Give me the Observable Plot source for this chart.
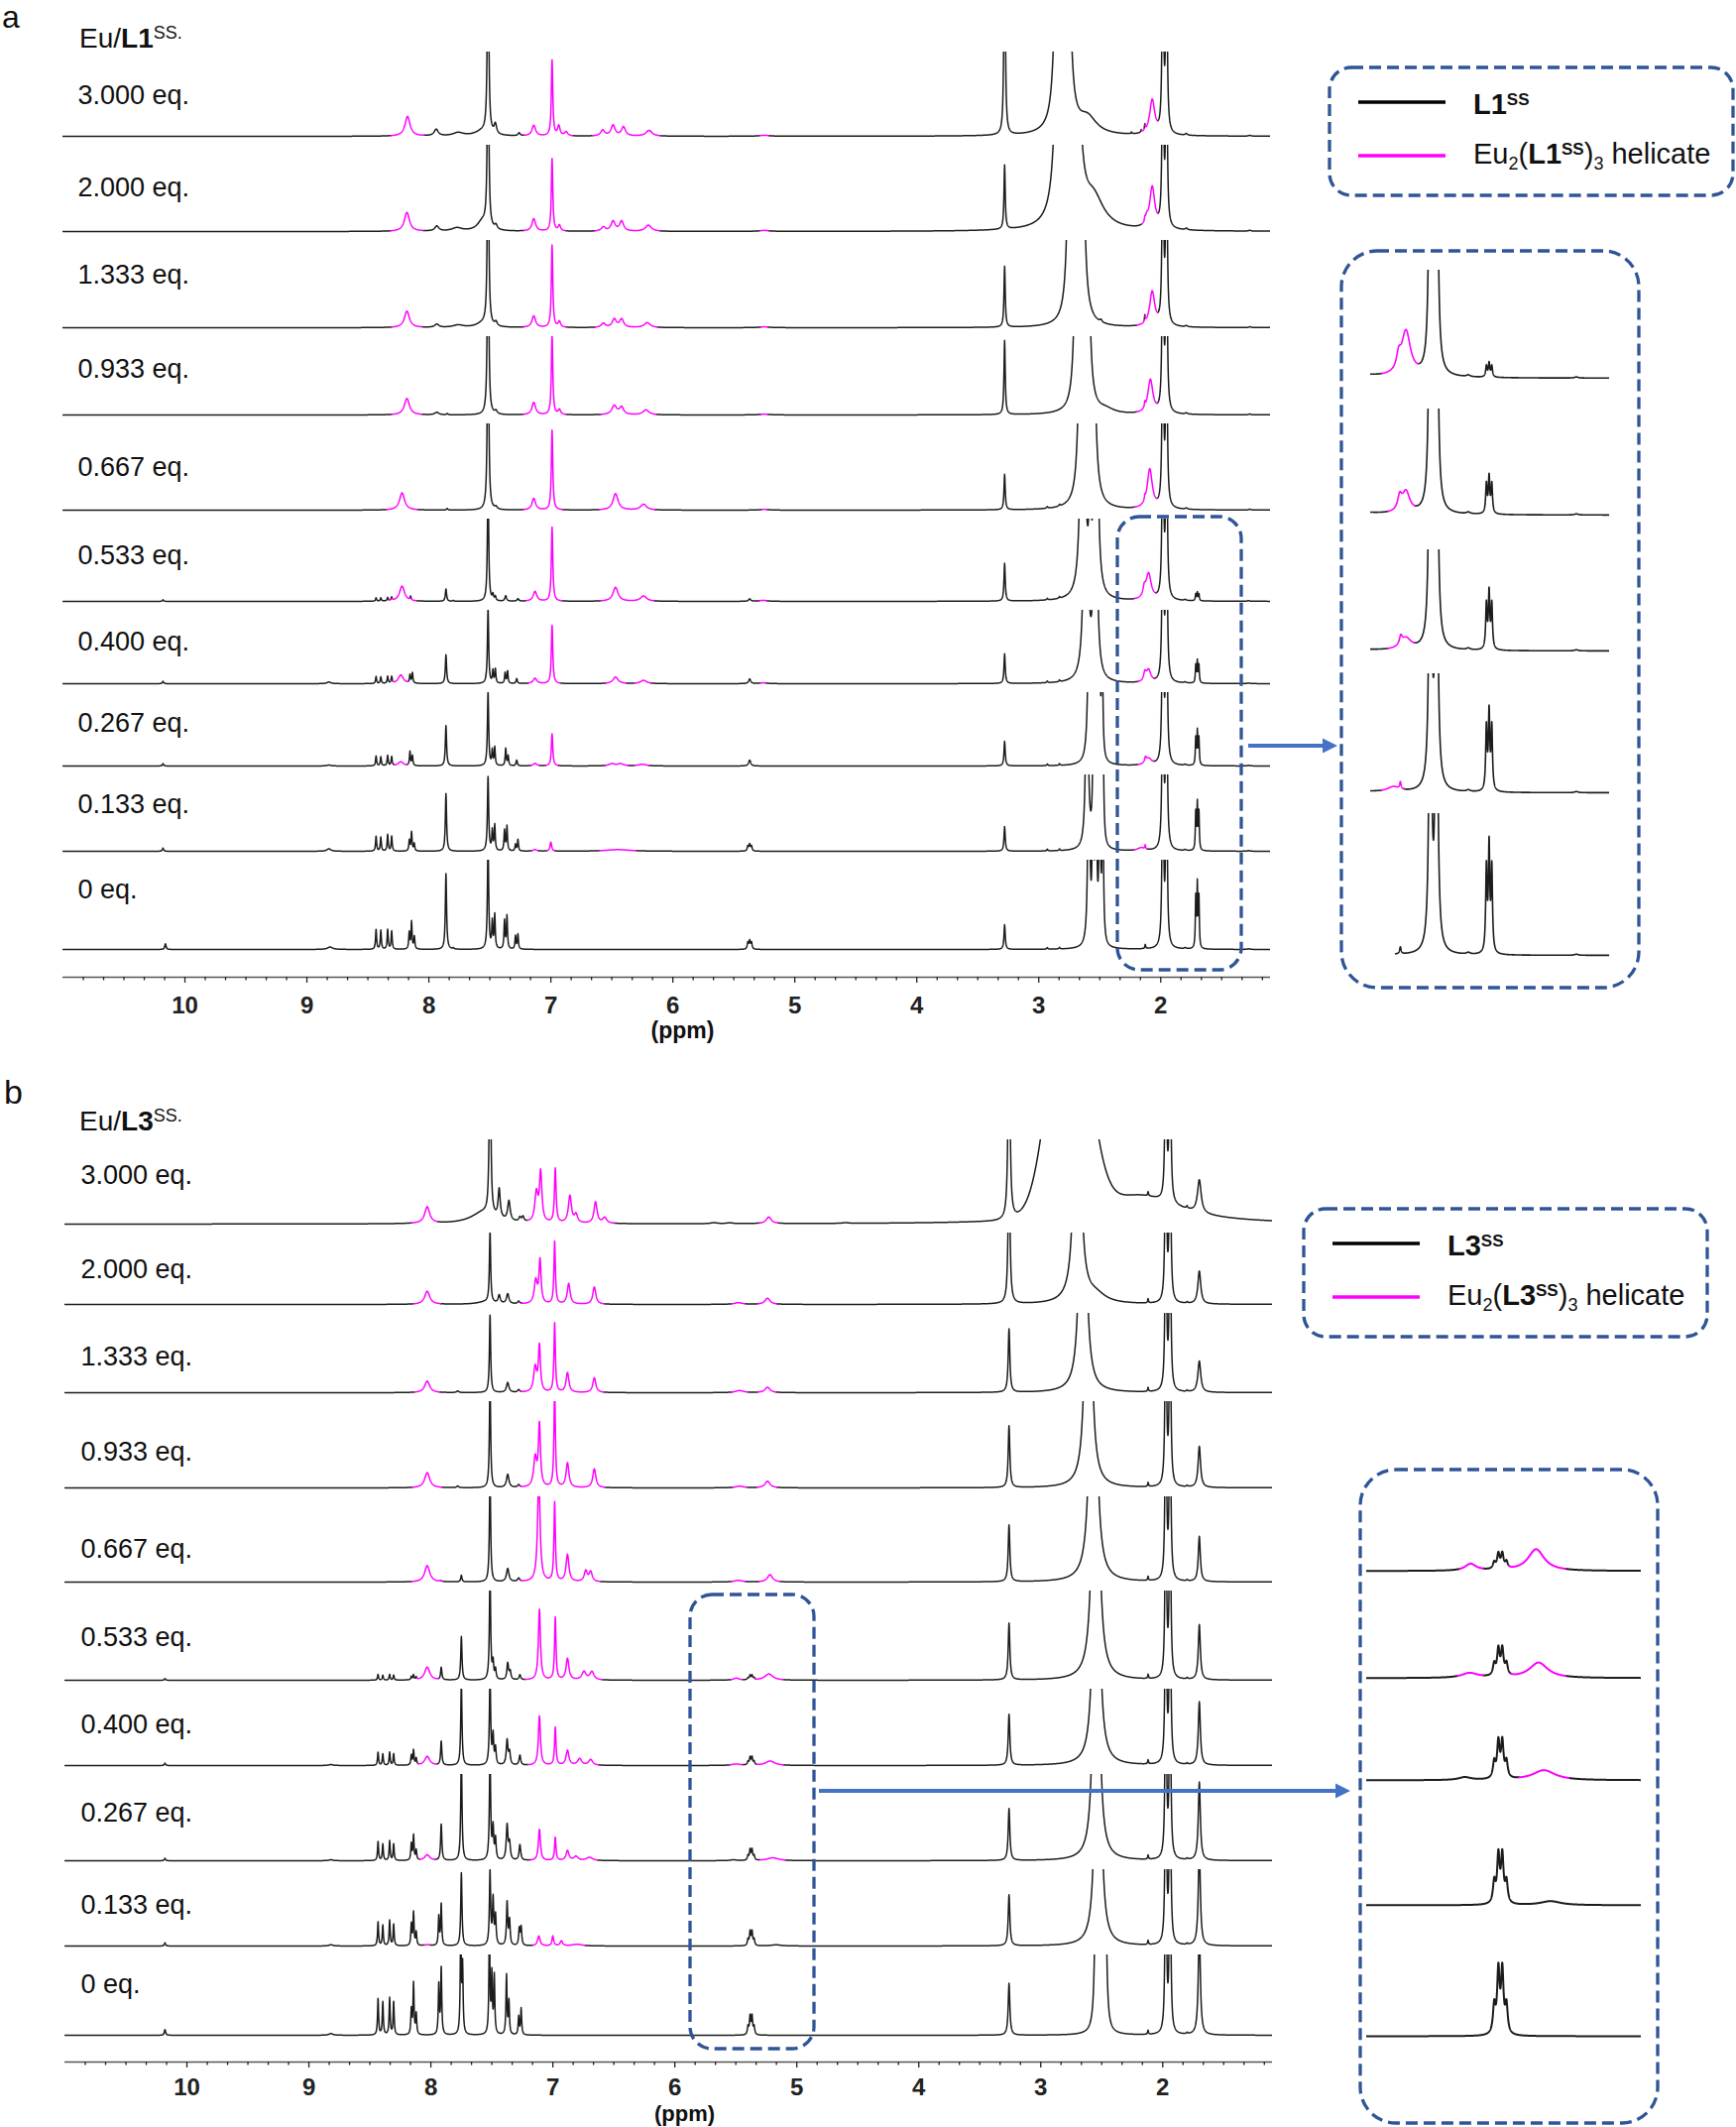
<!DOCTYPE html>
<html><head><meta charset="utf-8">
<script src="https://cdn.jsdelivr.net/npm/d3@7"></script>
<script src="https://cdn.jsdelivr.net/npm/@observablehq/plot@0.6"></script>
<style>
body{margin:0;background:#fff;}
#page{position:relative;width:1751px;height:2145px;overflow:hidden;background:#fff;}
</style></head><body><div id="page"></div>
<script>
// ---------- data ----------
const eqLabels = ["3.000 eq.","2.000 eq.","1.333 eq.","0.933 eq.","0.667 eq.","0.533 eq.","0.400 eq.","0.267 eq.","0.133 eq.","0 eq."];
const majorTicks = [10,9,8,7,6,5,4,3,2];
const minorTicks = d3.range(7, 66).filter(k => k % 6 !== 0).map(k => k / 6);
const ligandA = "L1", ligandB = "L3";
// peaks: [ppm, height (slot units), half-width (ppm), "k" ligand / "m" Eu helicate, optional "g" gaussian]
const a3000 = [[8.175,0.24,0.025,"m"],[7.94,0.08,0.02,"k"],[7.76,0.04,0.05,"k"],[7.56,0.06,0.07,"k"],[7.515,3,0.006,"k"],[7.455,0.12,0.012,"k"],[7.26,0.035,0.01,"k"],[7.14,0.13,0.018,"m"],[6.99,0.92,0.007,"m"],[6.935,0.12,0.012,"m"],[6.875,0.05,0.015,"m"],[6.575,0.07,0.02,"m"],[6.49,0.13,0.02,"m"],[6.405,0.11,0.02,"m"],[6.195,0.07,0.03,"m"],[5.25,0.012,0.05,"m"],[3.28,3,0.006,"k"],[2.845,4,0.02,"k"],[2.765,4,0.02,"k"],[2.6,0.2,0.09,"k"],[2.24,0.02,0.004,"k"],[2.16,0.03,0.004,"k"],[2.13,0.07,0.004,"k"],[2.07,0.42,0.025,"m"],[1.983,3,0.006,"k"],[1.953,3,0.006,"k"],[1.79,0.02,0.01,"k"],[1.27,0.01,0.01,"k"]];
const a2000 = [[8.18,0.23,0.025,"m"],[7.935,0.06,0.02,"k"],[7.77,0.04,0.05,"k"],[7.56,0.12,0.05,"k"],[7.515,3,0.006,"k"],[7.45,0.05,0.012,"k"],[7.14,0.15,0.018,"m"],[6.99,0.88,0.007,"m"],[6.93,0.07,0.012,"m"],[6.57,0.05,0.02,"m"],[6.49,0.12,0.02,"m"],[6.42,0.12,0.02,"m"],[6.20,0.075,0.03,"m"],[5.25,0.012,0.05,"m"],[3.28,0.78,0.006,"k"],[2.83,5,0.025,"k"],[2.70,5,0.025,"k"],[2.55,0.35,0.1,"k"],[2.13,0.05,0.004,"k"],[2.115,0.08,0.012,"m"],[2.07,0.5,0.025,"m"],[1.983,3,0.006,"k"],[1.953,3,0.006,"k"],[1.79,0.02,0.01,"k"],[1.27,0.01,0.01,"k"]];
const a1333 = [[8.18,0.2,0.025,"m"],[7.935,0.04,0.02,"k"],[7.76,0.03,0.05,"k"],[7.56,0.05,0.06,"k"],[7.515,3,0.006,"k"],[7.45,0.05,0.012,"k"],[7.14,0.14,0.018,"m"],[6.99,1.0,0.007,"m"],[6.93,0.07,0.012,"m"],[6.57,0.05,0.02,"m"],[6.48,0.1,0.02,"m"],[6.42,0.1,0.02,"m"],[6.21,0.06,0.03,"m"],[5.25,0.01,0.05,"m"],[3.28,0.74,0.006,"k"],[2.74,6,0.015,"k"],[2.65,6,0.015,"k"],[2.49,0.03,0.01,"k"],[2.13,0.08,0.004,"k"],[2.07,0.42,0.025,"m"],[1.983,3,0.006,"k"],[1.953,3,0.006,"k"],[1.79,0.015,0.01,"k"],[1.27,0.01,0.01,"k"]];
const a0933 = [[8.18,0.2,0.025,"m"],[7.935,0.03,0.02,"k"],[7.85,0.015,0.006,"k"],[7.515,3,0.006,"k"],[7.45,0.04,0.012,"k"],[7.14,0.15,0.018,"m"],[6.99,0.97,0.007,"m"],[6.93,0.06,0.012,"m"],[6.48,0.11,0.025,"m"],[6.42,0.09,0.02,"m"],[6.22,0.06,0.03,"m"],[5.25,0.01,0.05,"m"],[3.28,0.9,0.006,"k"],[2.685,6,0.013,"k"],[2.605,6,0.013,"k"],[2.45,0.05,0.08,"k"],[2.13,0.06,0.004,"k"],[2.085,0.41,0.025,"m"],[1.983,3,0.006,"k"],[1.953,3,0.006,"k"],[1.79,0.015,0.01,"k"],[1.27,0.01,0.01,"k"]];
const a0667 = [[8.22,0.21,0.025,"m"],[7.85,0.02,0.006,"k"],[7.515,3,0.006,"k"],[7.45,0.03,0.012,"k"],[7.14,0.14,0.018,"m"],[6.99,0.97,0.007,"m"],[6.47,0.2,0.025,"m"],[6.24,0.07,0.03,"m"],[5.25,0.01,0.04,"m"],[3.28,0.43,0.006,"k"],[2.93,0.02,0.006,"k"],[2.83,0.02,0.006,"k"],[2.65,6,0.014,"k"],[2.56,6,0.014,"k"],[2.13,0.05,0.004,"k"],[2.09,0.48,0.025,"m"],[1.983,3,0.006,"k"],[1.953,3,0.006,"k"],[1.79,0.015,0.01,"k"],[1.27,0.01,0.01,"k"]];
const a0533 = [[10.18,0.02,0.006,"k"],[8.433,0.04,0.005,"k"],[8.394,0.04,0.005,"k"],[8.338,0.04,0.005,"k"],[8.305,0.04,0.005,"k"],[8.22,0.185,0.025,"m"],[8.15,0.045,0.005,"k"],[7.86,0.15,0.006,"k"],[7.80,0.01,0.006,"k"],[7.515,1.5,0.006,"k"],[7.475,0.07,0.006,"k"],[7.455,0.05,0.006,"k"],[7.37,0.065,0.008,"k"],[7.27,0.03,0.008,"k"],[7.13,0.12,0.018,"m"],[6.99,0.9,0.007,"m"],[6.47,0.17,0.025,"m"],[6.24,0.065,0.03,"m"],[5.37,0.03,0.01,"k"],[5.26,0.012,0.04,"m"],[3.28,0.46,0.006,"k"],[2.93,0.02,0.005,"k"],[2.83,0.02,0.005,"k"],[2.64,5,0.015,"k"],[2.58,2,0.006,"k"],[2.53,5,0.012,"k"],[2.135,0.1,0.012,"m"],[2.10,0.32,0.026,"m"],[1.983,3,0.006,"k"],[1.953,3,0.006,"k"],[1.80,0.012,0.01,"k"],[1.713,0.08,0.004,"k"],[1.70,0.1,0.004,"k"],[1.687,0.08,0.004,"k"],[1.28,0.008,0.01,"k"]];
const a0400 = [[10.18,0.03,0.006,"k"],[8.82,0.02,0.02,"k"],[8.433,0.085,0.005,"k"],[8.394,0.08,0.005,"k"],[8.338,0.085,0.005,"k"],[8.305,0.08,0.005,"k"],[8.23,0.105,0.025,"m"],[8.155,0.1,0.005,"k"],[8.135,0.125,0.005,"k"],[7.86,0.35,0.006,"k"],[7.515,0.9,0.006,"k"],[7.475,0.15,0.005,"k"],[7.455,0.17,0.005,"k"],[7.375,0.13,0.005,"k"],[7.355,0.15,0.005,"k"],[7.28,0.06,0.006,"k"],[7.13,0.065,0.018,"m"],[6.99,0.71,0.007,"m"],[6.47,0.08,0.025,"m"],[6.24,0.04,0.03,"m"],[5.37,0.056,0.01,"k"],[5.26,0.01,0.04,"m"],[3.28,0.36,0.006,"k"],[2.93,0.02,0.005,"k"],[2.83,0.02,0.005,"k"],[2.615,4,0.015,"k"],[2.535,4,0.012,"k"],[2.13,0.1,0.012,"m"],[2.10,0.15,0.022,"m"],[1.983,3,0.006,"k"],[1.953,3,0.006,"k"],[1.80,0.012,0.01,"k"],[1.713,0.21,0.004,"k"],[1.70,0.26,0.004,"k"],[1.687,0.21,0.004,"k"],[1.28,0.008,0.01,"k"]];
const a0267 = [[10.18,0.03,0.006,"k"],[8.82,0.012,0.02,"k"],[8.433,0.12,0.005,"k"],[8.394,0.11,0.005,"k"],[8.338,0.125,0.005,"k"],[8.305,0.11,0.005,"k"],[8.23,0.05,0.025,"m"],[8.155,0.17,0.005,"k"],[8.135,0.12,0.005,"k"],[7.86,0.49,0.006,"k"],[7.515,0.89,0.006,"k"],[7.48,0.18,0.005,"k"],[7.46,0.22,0.005,"k"],[7.37,0.21,0.005,"k"],[7.35,0.12,0.005,"k"],[7.28,0.07,0.006,"k"],[7.13,0.03,0.018,"m"],[6.99,0.39,0.007,"m"],[6.50,0.025,0.03,"m"],[6.43,0.025,0.03,"m"],[6.25,0.02,0.04,"m"],[5.37,0.072,0.01,"k"],[3.28,0.30,0.006,"k"],[2.93,0.02,0.005,"k"],[2.83,0.02,0.005,"k"],[2.585,3,0.01,"k"],[2.555,2.5,0.006,"k"],[2.53,2.5,0.006,"k"],[2.505,2.5,0.006,"k"],[2.48,1.5,0.006,"k"],[2.125,0.06,0.008,"m"],[2.10,0.08,0.03,"m"],[1.983,3,0.006,"k"],[1.953,3,0.006,"k"],[1.80,0.012,0.01,"k"],[1.713,0.32,0.004,"k"],[1.70,0.4,0.004,"k"],[1.687,0.32,0.004,"k"],[1.28,0.008,0.01,"k"]];
const a0133 = [[10.18,0.04,0.006,"k"],[8.82,0.03,0.02,"k"],[8.433,0.18,0.005,"k"],[8.394,0.17,0.005,"k"],[8.338,0.2,0.005,"k"],[8.305,0.18,0.005,"k"],[8.16,0.13,0.005,"k"],[8.142,0.23,0.005,"k"],[8.12,0.09,0.005,"k"],[7.86,0.70,0.006,"k"],[7.515,0.9,0.006,"k"],[7.48,0.24,0.005,"k"],[7.46,0.31,0.005,"k"],[7.38,0.25,0.005,"k"],[7.36,0.3,0.005,"k"],[7.29,0.08,0.005,"k"],[7.27,0.14,0.005,"k"],[7.13,0.02,0.018,"m"],[7.0,0.11,0.008,"m"],[6.45,0.02,0.12,"m"],[5.385,0.06,0.006,"k"],[5.37,0.08,0.006,"k"],[5.355,0.06,0.006,"k"],[3.28,0.30,0.006,"k"],[2.93,0.02,0.005,"k"],[2.83,0.02,0.005,"k"],[2.605,3,0.01,"k"],[2.55,2.5,0.006,"k"],[2.525,2.5,0.006,"k"],[2.50,2.5,0.006,"k"],[2.475,2,0.006,"k"],[2.16,0.035,0.035,"m"],[2.127,0.05,0.004,"m"],[1.983,3,0.006,"k"],[1.953,3,0.006,"k"],[1.80,0.012,0.01,"k"],[1.713,0.45,0.004,"k"],[1.70,0.55,0.004,"k"],[1.687,0.45,0.004,"k"],[1.28,0.008,0.01,"k"]];
const a0000 = [[10.16,0.07,0.006,"k"],[8.81,0.03,0.025,"k"],[8.433,0.24,0.005,"k"],[8.394,0.23,0.005,"k"],[8.338,0.24,0.005,"k"],[8.305,0.22,0.005,"k"],[8.161,0.2,0.005,"k"],[8.142,0.33,0.005,"k"],[8.119,0.15,0.005,"k"],[7.86,0.92,0.006,"k"],[7.80,0.015,0.006,"k"],[7.515,1.3,0.006,"k"],[7.48,0.32,0.005,"k"],[7.46,0.41,0.005,"k"],[7.38,0.34,0.005,"k"],[7.36,0.40,0.005,"k"],[7.29,0.16,0.005,"k"],[7.27,0.18,0.005,"k"],[5.385,0.08,0.006,"k"],[5.37,0.1,0.006,"k"],[5.355,0.08,0.006,"k"],[3.28,0.30,0.006,"k"],[2.93,0.02,0.005,"k"],[2.83,0.02,0.005,"k"],[2.59,3,0.008,"k"],[2.555,2.5,0.006,"k"],[2.53,2.5,0.006,"k"],[2.50,2.5,0.006,"k"],[2.475,2,0.006,"k"],[2.127,0.05,0.004,"k"],[1.983,3,0.006,"k"],[1.953,3,0.006,"k"],[1.80,0.012,0.01,"k"],[1.713,0.6,0.004,"k"],[1.70,0.75,0.004,"k"],[1.687,0.6,0.004,"k"],[1.28,0.008,0.01,"k"]];

const b3000 = [[8.03,0.2,0.025,"m"],[7.57,0.14,0.12,"k"],[7.515,3,0.006,"k"],[7.44,0.35,0.01,"k"],[7.36,0.24,0.012,"k"],[7.27,0.05,0.01,"k"],[7.245,0.06,0.01,"k"],[7.135,0.35,0.015,"m"],[7.10,0.6,0.012,"m"],[6.98,0.66,0.008,"m"],[6.86,0.33,0.015,"m"],[6.81,0.1,0.015,"m"],[6.65,0.26,0.015,"m"],[6.575,0.07,0.02,"m"],[5.68,0.012,0.03,"k"],[5.55,0.01,0.03,"k"],[5.23,0.08,0.025,"m"],[4.6,0.008,0.03,"k"],[3.26,3,0.008,"k"],[2.77,3.2,0.15,"k","g"],[2.2,0.35,0.4,"k"],[2.12,0.05,0.004,"k"],[1.975,3,0.006,"k"],[1.94,3,0.006,"k"],[1.80,0.03,0.006,"k"],[1.70,0.4,0.018,"k"]];
const b2000 = [[8.03,0.16,0.025,"m"],[7.55,0.03,0.08,"k"],[7.515,0.86,0.006,"k"],[7.44,0.1,0.01,"k"],[7.37,0.12,0.012,"k"],[7.28,0.03,0.01,"k"],[7.14,0.28,0.015,"m"],[7.105,0.52,0.01,"m"],[6.985,0.76,0.007,"m"],[6.87,0.25,0.014,"m"],[6.66,0.21,0.015,"m"],[5.48,0.02,0.04,"m"],[5.24,0.075,0.025,"m"],[3.26,2,0.008,"k"],[2.70,6,0.02,"k"],[2.55,0.1,0.1,"k"],[2.12,0.05,0.004,"k"],[1.975,3,0.006,"k"],[1.94,3,0.006,"k"],[1.80,0.015,0.006,"k"],[1.70,0.4,0.014,"k"]];
const b1333 = [[8.03,0.14,0.025,"m"],[7.78,0.02,0.01,"k"],[7.515,0.94,0.006,"k"],[7.37,0.12,0.012,"k"],[7.28,0.03,0.01,"k"],[7.145,0.3,0.015,"m"],[7.11,0.55,0.01,"m"],[6.985,0.84,0.007,"m"],[6.88,0.24,0.014,"m"],[6.66,0.18,0.015,"m"],[5.47,0.025,0.04,"m"],[5.24,0.065,0.025,"m"],[3.26,0.77,0.008,"k"],[2.655,6,0.02,"k"],[2.12,0.05,0.004,"k"],[1.975,3,0.006,"k"],[1.94,3,0.006,"k"],[1.80,0.015,0.006,"k"],[1.70,0.38,0.014,"k"]];
const b0933 = [[8.03,0.185,0.025,"m"],[7.78,0.02,0.01,"k"],[7.515,1.3,0.006,"k"],[7.37,0.16,0.012,"k"],[7.28,0.03,0.01,"k"],[7.145,0.35,0.015,"m"],[7.11,0.75,0.01,"m"],[6.985,1.2,0.007,"m"],[6.88,0.3,0.014,"m"],[6.66,0.23,0.015,"m"],[5.47,0.02,0.04,"m"],[5.24,0.08,0.025,"m"],[3.26,0.75,0.008,"k"],[2.61,6,0.02,"k"],[2.12,0.05,0.004,"k"],[1.975,3,0.006,"k"],[1.94,3,0.006,"k"],[1.80,0.015,0.006,"k"],[1.70,0.5,0.012,"k"]];
const b0667 = [[8.03,0.2,0.025,"m"],[7.92,0.01,0.01,"k"],[7.75,0.08,0.006,"k"],[7.515,1.3,0.006,"k"],[7.37,0.16,0.012,"k"],[7.28,0.04,0.01,"k"],[7.115,1.3,0.012,"m"],[6.985,0.96,0.007,"m"],[6.88,0.33,0.014,"m"],[6.73,0.13,0.015,"m"],[6.69,0.12,0.015,"m"],[5.48,0.02,0.04,"m"],[5.22,0.09,0.025,"m"],[3.26,0.69,0.008,"k"],[2.57,6,0.022,"k"],[2.12,0.05,0.004,"k"],[1.975,3,0.006,"k"],[1.94,3,0.006,"k"],[1.80,0.015,0.006,"k"],[1.70,0.55,0.01,"k"]];
const b0533 = [[10.18,0.02,0.006,"k"],[8.433,0.07,0.005,"k"],[8.394,0.06,0.005,"k"],[8.338,0.07,0.005,"k"],[8.305,0.06,0.005,"k"],[8.16,0.04,0.005,"k"],[8.142,0.06,0.005,"k"],[8.12,0.03,0.005,"k"],[8.03,0.16,0.025,"m"],[7.915,0.15,0.006,"k"],[7.75,0.53,0.006,"k"],[7.515,1.3,0.006,"k"],[7.49,0.2,0.006,"k"],[7.47,0.12,0.006,"k"],[7.37,0.2,0.008,"k"],[7.35,0.1,0.008,"k"],[7.27,0.06,0.008,"k"],[7.11,0.86,0.01,"m"],[6.98,0.76,0.007,"m"],[6.88,0.26,0.014,"m"],[6.745,0.1,0.02,"m"],[6.68,0.1,0.02,"m"],[5.496,0.024,0.027,"m"],[5.40,0.023,0.006,"k"],[5.383,0.052,0.006,"k"],[5.367,0.052,0.006,"k"],[5.35,0.023,0.006,"k"],[5.229,0.076,0.04,"m"],[3.26,0.69,0.008,"k"],[2.55,6,0.022,"k"],[2.12,0.05,0.004,"k"],[1.975,3,0.006,"k"],[1.94,3,0.006,"k"],[1.80,0.015,0.006,"k"],[1.70,0.67,0.01,"k"]];
const b0400 = [[10.18,0.03,0.006,"k"],[8.82,0.012,0.02,"k"],[8.433,0.16,0.005,"k"],[8.394,0.14,0.005,"k"],[8.338,0.16,0.005,"k"],[8.305,0.14,0.005,"k"],[8.16,0.12,0.005,"k"],[8.142,0.18,0.005,"k"],[8.12,0.08,0.005,"k"],[8.03,0.11,0.025,"m"],[7.915,0.29,0.006,"k"],[7.75,1.0,0.006,"k"],[7.515,1.1,0.006,"k"],[7.49,0.35,0.006,"k"],[7.47,0.2,0.006,"k"],[7.375,0.3,0.008,"k"],[7.355,0.15,0.008,"k"],[7.27,0.12,0.008,"k"],[7.11,0.6,0.01,"m"],[6.98,0.46,0.007,"m"],[6.88,0.18,0.014,"m"],[6.78,0.08,0.02,"m"],[6.69,0.07,0.02,"m"],[5.50,0.017,0.04,"m"],[5.40,0.041,0.006,"k"],[5.383,0.092,0.006,"k"],[5.367,0.092,0.006,"k"],[5.35,0.041,0.006,"k"],[5.219,0.054,0.045,"m"],[3.26,0.62,0.008,"k"],[2.545,6,0.02,"k"],[2.12,0.05,0.004,"k"],[1.975,3,0.006,"k"],[1.94,3,0.006,"k"],[1.80,0.015,0.006,"k"],[1.70,0.77,0.01,"k"]];
const b0267 = [[10.18,0.03,0.006,"k"],[8.82,0.012,0.02,"k"],[8.433,0.23,0.005,"k"],[8.394,0.2,0.005,"k"],[8.338,0.24,0.005,"k"],[8.305,0.2,0.005,"k"],[8.16,0.2,0.005,"k"],[8.142,0.3,0.005,"k"],[8.12,0.12,0.005,"k"],[8.03,0.07,0.025,"m"],[7.915,0.44,0.006,"k"],[7.75,1.3,0.006,"k"],[7.515,1.3,0.006,"k"],[7.49,0.38,0.006,"k"],[7.47,0.25,0.006,"k"],[7.375,0.42,0.008,"k"],[7.355,0.2,0.008,"k"],[7.27,0.19,0.008,"k"],[7.11,0.38,0.01,"m"],[6.98,0.28,0.007,"m"],[6.88,0.12,0.014,"m"],[6.81,0.05,0.02,"m"],[6.70,0.04,0.03,"m"],[5.52,0.01,0.03,"k"],[5.40,0.056,0.006,"k"],[5.383,0.125,0.006,"k"],[5.367,0.125,0.006,"k"],[5.35,0.056,0.006,"k"],[5.197,0.035,0.055,"m"],[3.26,0.63,0.008,"k"],[2.545,7,0.018,"k"],[2.12,0.05,0.004,"k"],[1.975,3,0.006,"k"],[1.94,3,0.006,"k"],[1.80,0.015,0.006,"k"],[1.70,0.95,0.01,"k"]];
const b0133 = [[10.18,0.04,0.006,"k"],[8.82,0.015,0.02,"k"],[8.433,0.29,0.005,"k"],[8.394,0.25,0.005,"k"],[8.338,0.31,0.005,"k"],[8.305,0.26,0.005,"k"],[8.16,0.26,0.005,"k"],[8.142,0.4,0.005,"k"],[8.12,0.16,0.005,"k"],[8.03,0.012,0.03,"m"],[7.935,0.35,0.005,"k"],[7.915,0.5,0.005,"k"],[7.75,0.89,0.006,"k"],[7.515,0.89,0.006,"k"],[7.49,0.55,0.006,"k"],[7.47,0.35,0.006,"k"],[7.375,0.52,0.006,"k"],[7.355,0.3,0.006,"k"],[7.275,0.2,0.006,"k"],[7.26,0.22,0.006,"k"],[7.115,0.12,0.012,"m"],[7.0,0.12,0.008,"m"],[6.93,0.06,0.012,"m"],[6.8,0.02,0.05,"m"],[5.40,0.074,0.006,"k"],[5.383,0.165,0.006,"k"],[5.367,0.165,0.006,"k"],[5.35,0.074,0.006,"k"],[5.17,0.014,0.05,"k"],[3.26,0.62,0.008,"k"],[2.53,7,0.017,"k"],[2.12,0.05,0.004,"k"],[1.975,3,0.006,"k"],[1.94,3,0.006,"k"],[1.80,0.015,0.006,"k"],[1.70,1.2,0.01,"k"]];
const b0000 = [[10.18,0.07,0.006,"k"],[8.82,0.02,0.02,"k"],[8.433,0.44,0.005,"k"],[8.394,0.4,0.005,"k"],[8.338,0.45,0.005,"k"],[8.305,0.4,0.005,"k"],[8.16,0.3,0.005,"k"],[8.142,0.62,0.005,"k"],[8.12,0.25,0.005,"k"],[7.935,0.6,0.005,"k"],[7.915,0.8,0.005,"k"],[7.755,1.3,0.005,"k"],[7.74,0.8,0.005,"k"],[7.52,1.3,0.005,"k"],[7.50,0.7,0.005,"k"],[7.48,0.7,0.005,"k"],[7.38,0.72,0.005,"k"],[7.36,0.4,0.005,"k"],[7.28,0.22,0.005,"k"],[7.26,0.32,0.005,"k"],[5.40,0.097,0.006,"k"],[5.383,0.217,0.006,"k"],[5.367,0.217,0.006,"k"],[5.35,0.097,0.006,"k"],[3.26,0.63,0.008,"k"],[2.545,3,0.01,"k"],[2.51,3,0.006,"k"],[2.49,3,0.006,"k"],[2.47,2,0.01,"k"],[2.12,0.05,0.004,"k"],[1.975,3,0.006,"k"],[1.94,3,0.006,"k"],[1.80,0.015,0.006,"k"],[1.70,1.3,0.01,"k"]];

const spectraA = [a3000,a2000,a1333,a0933,a0667,a0533,a0400,a0267,a0133,a0000];
const spectraB = [b3000,b2000,b1333,b0933,b0667,b0533,b0400,b0267,b0133,b0000];
const insetRows = [5,6,7,8,9];               // spectra shown in the zoom insets
const insetDomainA = [2.27, 1.12], insetStartA = [2.27,2.27,2.27,2.27,2.15];
const insetDomainB = [5.92, 4.80];
const ppmDomain = [11.0, 1.1];

// ---------- layout (pixels) ----------
const layoutA = {baselines: [137,233,330,418,514,606,689,772,858,957], labelY: [96,189,277,372,471,560,647,729,811,897],
  unit: 83, left: 63, right: 1281, axisY: 985, labelDx: 15, shift: 0, ppmDy: 54, tickPad: 13, ppmSize: 23};
const layoutB = {baselines: [1234,1315,1404,1500,1595,1694,1780,1876,1962,2052], labelY: [1185,1280,1368,1464,1562,1651,1739,1828,1921,2001],
  unit: 83, left: 63, right: 1281, axisY: 2079, labelDx: 16, shift: 1.5, ppmDy: 52, tickPad: 10, ppmSize: 22};

// ---------- rendering ----------
const FONT = "'Liberation Sans', Arial, Helvetica, sans-serif";
const BLACK = "#1c1c1c", MAGENTA = "#ff00ff", BOXBLUE = "#2f5597", ARROWBLUE = "#4472c4";
const page = document.getElementById("page");

function spectrum(peaks, hi, lo, step) {
  const xs = d3.range(lo, hi + step / 2, step);
  for (const p of peaks) if (p[0] > lo && p[0] < hi) xs.push(p[0]);
  xs.sort((a, b) => a - b);
  return xs.map(x => {
    let k = 0, m = 0;
    for (const [c, h, w, col, shape] of peaks) {
      const d = (x - c) / w;
      const v = shape === "g" ? h * Math.exp(-0.5 * d * d) : h / (1 + d * d);
      if (col === "m") m += v; else k += v;
    }
    return {x, y: k + m, mag: m > k && m > 0.008};
  });
}
function segments(pts, s) {
  const rows = []; let seg = 0; let cur = pts[0].mag;
  for (const p of pts) {
    if (p.mag !== cur) { rows.push({s, seg: s + "-" + seg, x: p.x, y: p.y, mag: cur}); seg++; cur = p.mag; }
    rows.push({s, seg: s + "-" + seg, x: p.x, y: p.y, mag: cur});
  }
  return rows;
}
function place(el, left, top) {
  el.style.position = "absolute"; el.style.left = left + "px"; el.style.top = top + "px";
  page.appendChild(el);
}
const W = 1300;
function panel(specs, L) {
  const pad = 4;
  specs.forEach((p, i) => {
    const base = L.baselines[i];
    const top = i === 0 ? base - 85 : L.baselines[i - 1] + 9;
    const h = base - top + pad;
    const rows = segments(spectrum(p, ppmDomain[0], ppmDomain[1], 0.002), i);
    const plot = Plot.plot({
      width: W, height: h, marginLeft: L.left, marginRight: W - L.right, marginTop: 0, marginBottom: 0,
      style: {background: "transparent", fontFamily: FONT, overflow: "visible"},
      x: {domain: ppmDomain, axis: null},
      y: {domain: [-pad / L.unit, (base - top) / L.unit], axis: null},
      marks: [
        Plot.line(rows.filter(d => !d.mag), {x: "x", y: "y", z: "seg", stroke: BLACK, strokeWidth: 1.5, clip: true}),
        Plot.line(rows.filter(d => d.mag), {x: "x", y: "y", z: "seg", stroke: MAGENTA, strokeWidth: 1.5, clip: true}),
        Plot.text([eqLabels[i]], {text: d => d, frameAnchor: "left", textAnchor: "start", lineAnchor: "middle",
          dx: L.labelDx, dy: L.labelY[i] - (top + h / 2), fontSize: 27, fill: "#111"})
      ]
    });
    place(plot, L.shift, top);
  });
  const axis = Plot.plot({
    width: W, height: 64, marginLeft: L.left, marginRight: W - L.right, marginTop: 1, marginBottom: 62,
    style: {background: "transparent", fontFamily: FONT, color: "#222", overflow: "visible", fontSize: "24px", fontWeight: "bold"},
    x: {domain: ppmDomain},
    y: {domain: [0, 1], axis: null},
    marks: [
      Plot.ruleY([0], {stroke: "#555", strokeWidth: 1.6}),
      Plot.axisX({ticks: minorTicks, tickSize: 3.5, tickFormat: () => "", strokeWidth: 1.3}),
      Plot.axisX({ticks: majorTicks, tickSize: 6, tickPadding: L.tickPad, tickFormat: d => String(d), fontSize: 24, fontWeight: "bold", strokeWidth: 1.3}),
      Plot.text(["(ppm)"], {x: () => 5.92, frameAnchor: "bottom", lineAnchor: "middle", dy: L.ppmDy, text: d => d, fontSize: L.ppmSize, fontWeight: "bold", fill: "#111"})
    ]
  });
  place(axis, L.shift, L.axisY - 2);
}
function inset(peaks, dom, start, xl, xr, base, top, unit, sw) {
  const pad = 5;
  const pts = spectrum(peaks, start, dom[1], 0.0005);
  const rows = segments(pts, 0);
  const plot = Plot.plot({
    width: xr - xl, height: base - top + pad, margin: 0,
    style: {background: "transparent", overflow: "visible"},
    x: {domain: dom, axis: null},
    y: {domain: [-pad / unit, (base - top) / unit], axis: null},
    marks: [
      Plot.line(rows.filter(d => !d.mag), {x: "x", y: "y", z: "seg", stroke: BLACK, strokeWidth: sw, clip: true}),
      Plot.line(rows.filter(d => d.mag), {x: "x", y: "y", z: "seg", stroke: MAGENTA, strokeWidth: sw, clip: true})
    ]
  });
  place(plot, xl, top);
}

panel(spectraA, layoutA);
panel(spectraB, layoutB);

const insetA = {base: [381, 519, 656, 799, 963], top: [272, 412, 554, 679, 820]};
insetRows.forEach((r, j) => inset(spectraA[r], insetDomainA, insetStartA[j], 1382, 1623, insetA.base[j], insetA.top[j], 140, 1.6));
const insetB = {base: [1584, 1692, 1795, 1921, 2053]};
insetRows.forEach((r, j) => inset(spectraB[r], insetDomainB, insetDomainB[0], 1378, 1655, insetB.base[j], insetB.base[j] - 95, 288, 2.0));

// ---------- annotations ----------
const ov = d3.create("svg").attr("width", 1751).attr("height", 2145).style("font-family", FONT);
function dashedBox(x, y, w, h, r) {
  ov.append("rect").attr("x", x).attr("y", y).attr("width", w).attr("height", h).attr("rx", r)
    .attr("fill", "none").attr("stroke", BOXBLUE).attr("stroke-width", 3.3).attr("stroke-dasharray", "12 6");
}
function arrow(x1, x2, y) {
  ov.append("line").attr("x1", x1).attr("x2", x2 - 12).attr("y1", y).attr("y2", y).attr("stroke", ARROWBLUE).attr("stroke-width", 4);
  ov.append("path").attr("d", `M${x2 - 15},${y - 7.5}L${x2},${y}L${x2 - 15},${y + 7.5}Z`).attr("fill", ARROWBLUE);
}
function heading(x, y, lig) {
  const t = ov.append("text").attr("x", x).attr("y", y).attr("font-size", 28).attr("fill", "#111");
  t.append("tspan").text("Eu/");
  t.append("tspan").attr("font-weight", "bold").text(lig);
  t.append("tspan").attr("font-size", 18).attr("dy", -9).text("SS.");
}
function legend(x, y, lig) {
  dashedBox(x, y, 407, 129, 22);
  ov.append("line").attr("x1", x + 29).attr("x2", x + 117).attr("y1", y + 35).attr("y2", y + 35).attr("stroke", "#000").attr("stroke-width", 3.5);
  ov.append("line").attr("x1", x + 29).attr("x2", x + 117).attr("y1", y + 89).attr("y2", y + 89).attr("stroke", MAGENTA).attr("stroke-width", 3.5);
  const t1 = ov.append("text").attr("x", x + 145).attr("y", y + 47).attr("font-size", 29).attr("fill", "#111");
  t1.append("tspan").attr("font-weight", "bold").text(lig);
  t1.append("tspan").attr("font-weight", "bold").attr("font-size", 17).attr("dy", -9).text("SS");
  const t2 = ov.append("text").attr("x", x + 145).attr("y", y + 97).attr("font-size", 29).attr("fill", "#111");
  t2.append("tspan").text("Eu");
  t2.append("tspan").attr("font-size", 18).attr("dy", 6).text("2");
  t2.append("tspan").attr("dy", -6).text("(");
  t2.append("tspan").attr("font-weight", "bold").text(lig);
  t2.append("tspan").attr("font-weight", "bold").attr("font-size", 17).attr("dy", -9).text("SS");
  t2.append("tspan").attr("dy", 9).text(")");
  t2.append("tspan").attr("font-size", 18).attr("dy", 6).text("3");
  t2.append("tspan").attr("dy", -6).text(" helicate");
}
ov.append("text").attr("x", 2).attr("y", 28).attr("font-size", 32).attr("fill", "#111").text("a");
ov.append("text").attr("x", 4).attr("y", 1113).attr("font-size", 34).attr("fill", "#111").text("b");
heading(80, 48, ligandA);
heading(80, 1140, ligandB);
legend(1341, 68, ligandA);
legend(1315, 1219, ligandB);
dashedBox(1127, 521, 125, 457, 22);
dashedBox(1353, 253, 300, 743, 36);
dashedBox(696, 1608, 125, 458, 22);
dashedBox(1372, 1482, 300, 659, 36);
arrow(1259, 1349, 752);
arrow(826, 1362, 1806);
place(ov.node(), 0, 0);
</script></body></html>
